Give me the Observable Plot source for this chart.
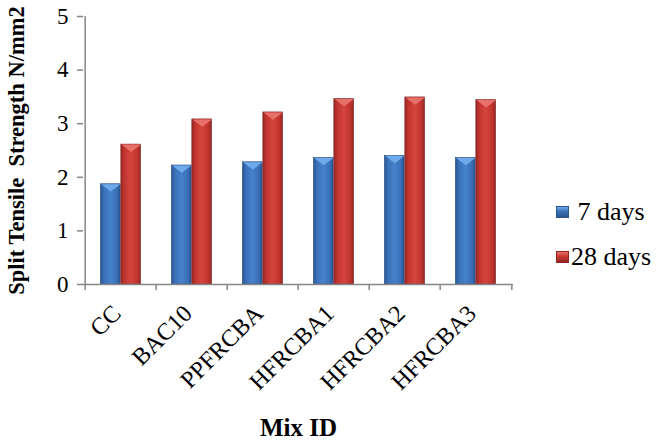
<!DOCTYPE html>
<html>
<head>
<meta charset="utf-8">
<script src="https://cdn.jsdelivr.net/npm/d3@7"></script>
<script src="https://cdn.jsdelivr.net/npm/@observablehq/plot@0.6"></script>
<style>
  html, body { margin: 0; padding: 0; background: #fff; font-family: "Liberation Serif", serif; }
  #wrap { position: relative; width: 659px; height: 445px; font-family: "Liberation Serif", serif; }
  .legend { position: absolute; left: 556px; font-size: 26px; font-family: "Liberation Serif", serif; color: #000; display: flex; align-items: center; white-space: pre; line-height: 1; }
  .sw { display: inline-block; width: 13px; height: 12px; margin-right: 2px; box-sizing: border-box; }
</style>
</head>
<body>
<div id="wrap"></div>
<script>
const categories = ["CC", "BAC10", "PPFRCBA", "HFRCBA1", "HFRCBA2", "HFRCBA3"];
const series = ["7 days", "28 days"];
const days7 = [1.87, 2.22, 2.28, 2.36, 2.40, 2.36];
const days28 = [2.61, 3.08, 3.21, 3.46, 3.49, 3.44];
const yTicks = [0, 1, 2, 3, 4, 5];
const yTitle = "Split Tensile  Strength N/mm2";
const xTitle = "Mix ID";

const rows7 = categories.map((c, i) => ({cat: c, series: series[0], value: days7[i]}));
const rows28 = categories.map((c, i) => ({cat: c, series: series[1], value: days28[i]}));

const W = 659, H = 445, mL = 83, mR = 146, mT = 16, mB = 161;
const bw = (W - mL - mR) / categories.length;
const outer = bw * 0.215, mid = bw * 0.5, barW = mid - outer;
const FONT = "Liberation Serif";

const capSymbol = {
  draw(ctx, size) {
    const s = Math.sqrt(size / Math.PI);
    ctx.moveTo(-s, 0);
    ctx.lineTo(s, 0);
    ctx.lineTo(0, 0.75 * s);
    ctx.closePath();
  }
};

const plot = Plot.plot({
  width: W, height: H,
  marginLeft: mL, marginRight: mR, marginTop: mT, marginBottom: mB,
  style: {fontFamily: FONT, fontSize: "23px", color: "#000", background: "#fff", overflow: "visible"},
  x: {domain: categories, padding: 0, label: null},
  y: {domain: [0, 5], label: null},
  marks: [
    Plot.barY(rows7, {x: "cat", y: "value", fill: "url(#gBlue)", stroke: "#244a80", strokeWidth: 0.6, insetLeft: outer, insetRight: bw - mid}),
    Plot.barY(rows28, {x: "cat", y: "value", fill: "url(#gRed)", stroke: "#7e2322", strokeWidth: 0.6, insetLeft: mid, insetRight: outer}),
    Plot.dot(rows7, {x: "cat", y: "value", symbol: capSymbol, r: barW / 2 - 0.5, fill: "#6fa9ea", dx: -(barW / 2), stroke: null}),
    Plot.dot(rows28, {x: "cat", y: "value", symbol: capSymbol, r: barW / 2 - 0.5, fill: "#e8706a", dx: barW / 2, stroke: null}),
    Plot.ruleY([0], {stroke: "#868686", strokeWidth: 1.5}),
    Plot.ruleX([categories[0]], {dx: -bw / 2, y1: 0, y2: 5, stroke: "#868686", strokeWidth: 1.5}),
    Plot.ruleX(categories, {dx: -bw / 2, y1: 0, y2: 0, insetBottom: -6, stroke: "#868686", strokeWidth: 1.5}),
    Plot.ruleX([categories[categories.length - 1]], {dx: bw / 2, y1: 0, y2: 0, insetBottom: -6, stroke: "#868686", strokeWidth: 1.5}),
    Plot.axisY({ticks: yTicks, tickFormat: d3.format("d"), tickSize: 6, tickPadding: 9, stroke: "#868686", strokeWidth: 1.5, label: null, fontSize: 23, fontFamily: FONT, fill: "#000"}),
    Plot.axisX({tickSize: 0, tickRotate: -45, tickPadding: 25, dx: -4, label: null, fontSize: 24, fontFamily: FONT, fill: "#000"}),
    Plot.text([yTitle], {frameAnchor: "left", rotate: -90, dx: -75, textAnchor: "middle", lineAnchor: "top", fontWeight: "bold", fontSize: 22.5, fontFamily: FONT, text: d => d}),
    Plot.text([xTitle], {frameAnchor: "bottom", dy: 143, textAnchor: "middle", lineAnchor: "middle", fontWeight: "bold", fontSize: 25, fontFamily: FONT, text: d => d})
  ]
});

const svg = d3.select(plot);
const defs = svg.insert("defs", ":first-child");
function grad(id, edge, mid1, center) {
  const g = defs.append("linearGradient").attr("id", id).attr("x1", "0").attr("x2", "1").attr("y1", "0").attr("y2", "0");
  [[0, edge], [0.18, mid1], [0.5, center], [0.82, mid1], [1, edge]].forEach(([o, c]) => g.append("stop").attr("offset", o).attr("stop-color", c));
}
grad("gBlue", "#2b5591", "#3a70b8", "#4682cc");
grad("gRed", "#952826", "#c2352f", "#d4453e");

const wrap = document.getElementById("wrap");
wrap.appendChild(plot);

const colors = [["#3a70b8", "#2b5591", "#6fa9ea"], ["#c8392f", "#8e2724", "#e8706a"]];
const legendTops = [199, 244];
const legendLabels = [" 7 days", "28 days"];
series.forEach((s, i) => {
  const d = document.createElement("div");
  d.className = "legend";
  d.style.top = legendTops[i] + "px";
  const sw = document.createElement("span");
  sw.className = "sw";
  sw.style.background = `linear-gradient(${colors[i][2]} 0%, ${colors[i][0]} 45%, ${colors[i][1]} 100%)`;
  sw.style.border = `1px solid ${colors[i][1]}`;
  d.appendChild(sw);
  d.appendChild(document.createTextNode(legendLabels[i]));
  wrap.appendChild(d);
});
</script>
</body>
</html>
